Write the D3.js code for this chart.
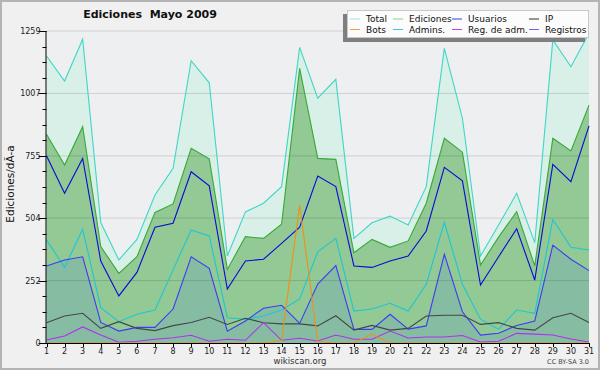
<!DOCTYPE html>
<html>
<head>
<meta charset="utf-8">
<script src="https://cdn.jsdelivr.net/npm/d3@7"></script>
<style>
  html, body { margin: 0; padding: 0; background: #f0f0f0; }
  svg { display: block; font-family: "DejaVu Sans", sans-serif; }
</style>
</head>
<body>
<div id="grafico"></div>
<script>
var width = 600;
var height = 370;

// Días del mes
var dias = d3.range(1, 32);

// Series (ediciones por día)
var total = [1158, 1057, 1226, 486, 335, 418, 597, 705, 1139, 1050, 351, 529, 564, 631, 1193, 988,
	1064, 422, 485, 512, 476, 631, 1189, 907, 351, 476, 604, 405, 1223, 1115, 1250];
var ediciones = [842, 718, 873, 389, 281, 348, 527, 561, 786, 743, 297, 429, 422, 479, 1108, 745,
	741, 364, 418, 386, 412, 564, 826, 770, 315, 427, 530, 311, 826, 775, 960];
var usuarios = [756, 604, 745, 331, 190, 285, 467, 483, 691, 634, 218, 331, 338, 402, 467, 674,
	631, 311, 305, 331, 351, 452, 709, 654, 234, 348, 461, 254, 721, 651, 876];
var ip = [82, 109, 120, 59, 86, 59, 50, 70, 83, 104, 75, 100, 82, 77, 77, 69,
	110, 52, 71, 52, 59, 109, 112, 112, 75, 82, 59, 52, 102, 120, 83];
var bots = [0, 0, 0, 0, 0, 0, 0, 0, 0, 0, 0, 0, 0, 10, 557, 5,
	0, 0, 35, 0, 0, 0, 0, 0, 0, 0, 0, 0, 0, 0, 0];
var admins = [416, 305, 459, 143, 86, 116, 133, 295, 456, 432, 102, 96, 109, 133, 178, 368,
	422, 129, 137, 160, 129, 237, 487, 237, 96, 55, 133, 120, 499, 386, 375];
var regAdm = [12, 28, 65, 32, 3, 7, 15, 21, 31, 7, 15, 11, 82, 11, 19, 8,
	32, 15, 15, 48, 20, 24, 24, 30, 4, 7, 39, 36, 32, 16, 4];
var registros = [311, 335, 348, 83, 48, 63, 63, 137, 348, 301, 48, 89, 140, 152, 79, 238,
	312, 55, 55, 116, 56, 69, 358, 126, 32, 39, 71, 89, 395, 338, 292];

var yMax = 1259;
var yTicks = [0, 252, 504, 755, 1007, 1259];

// Leyenda: dos filas de cuatro
var leyenda = [
	{ nombre: "Total", color: "#a8e6da" },
	{ nombre: "Ediciones", color: "#8fd08f" },
	{ nombre: "Usuarios", color: "#3a3ae0" },
	{ nombre: "IP", color: "#303030" },
	{ nombre: "Bots", color: "#f0a040" },
	{ nombre: "Admins.", color: "#40c8d8" },
	{ nombre: "Reg. de adm.", color: "#c040e0" },
	{ nombre: "Registros", color: "#6a6af0" }
];

var svg = d3.select("#grafico").append("svg")
	.attr("width", width)
	.attr("height", height);

// marco exterior
svg.append("rect")
	.attr("x", 1).attr("y", 1)
	.attr("width", width - 2).attr("height", height - 2)
	.attr("fill", "#f0f0f0")
	.attr("stroke", "#b4b4b4")
	.attr("stroke-width", 2);

var x = d3.scaleLinear().domain([1, 31]).range([46.5, 589]);
var y = d3.scaleLinear().domain([0, yMax]).range([343, 31]);

// fondo del área de datos
svg.append("rect")
	.attr("x", x(1)).attr("y", y(yMax))
	.attr("width", x(31) - x(1)).attr("height", y(0) - y(yMax))
	.attr("fill", "#eeeff0");

function area(serie) {
	return d3.area()
		.x((d, i) => x(dias[i]))
		.y0(y(0))
		.y1(d => y(d))(serie);
}
function linea(serie) {
	return d3.line()
		.x((d, i) => x(dias[i]))
		.y(d => y(d))(serie);
}

// Áreas rellenas
svg.append("path").attr("d", area(total)).attr("fill", "#d9f0e8");
svg.append("path").attr("d", area(ediciones)).attr("fill", "#92c994");
svg.append("path").attr("d", area(registros)).attr("fill", "#86bda2");

// líneas de la cuadrícula
svg.append("g")
	.selectAll("line")
	.data(yTicks.slice(1))
	.enter().append("line")
	.attr("x1", x(1)).attr("x2", x(31))
	.attr("y1", d => y(d)).attr("y2", d => y(d))
	.attr("stroke", "#000")
	.attr("stroke-opacity", 0.13)
	.attr("stroke-width", 1);

// Líneas de cada serie
var series = [
	{ datos: total, color: "#3fd6c6" },
	{ datos: ediciones, color: "#38a838" },
	{ datos: admins, color: "#1ec6d6" },
	{ datos: registros, color: "#3c3cf4" },
	{ datos: usuarios, color: "#0a0ad8" },
	{ datos: ip, color: "#404848" },
	{ datos: regAdm, color: "#b030ee" },
	{ datos: bots, color: "#f09018" }
];
svg.append("g")
	.selectAll("path")
	.data(series)
	.enter().append("path")
	.attr("d", d => linea(d.datos))
	.attr("fill", "none")
	.attr("stroke", d => d.color)
	.attr("stroke-width", 1.1);

// Ejes
var ejeY = svg.append("g");
ejeY.append("line")
	.attr("x1", x(1) - 0.5).attr("x2", x(1) - 0.5)
	.attr("y1", y(yMax)).attr("y2", y(0))
	.attr("stroke", "#000");
ejeY.selectAll(".menor")
	.data(d3.range(0, 21).map(i => i * yMax / 20))
	.enter().append("line")
	.attr("x1", x(1) - 4).attr("x2", x(1))
	.attr("y1", d => Math.round(y(d)) + 0.5).attr("y2", d => Math.round(y(d)) + 0.5)
	.attr("stroke", "#000");
ejeY.selectAll(".mayor")
	.data(yTicks)
	.enter().append("line")
	.attr("x1", x(1) - 8).attr("x2", x(1))
	.attr("y1", d => Math.round(y(d)) + 0.5).attr("y2", d => Math.round(y(d)) + 0.5)
	.attr("stroke", "#000");
ejeY.selectAll("text")
	.data(yTicks)
	.enter().append("text")
	.attr("x", x(1) - 6)
	.attr("y", d => y(d) + 3)
	.attr("text-anchor", "end")
	.attr("font-size", 8)
	.attr("fill", "#222")
	.text(d => d);

var ejeX = svg.append("g");
ejeX.append("line")
	.attr("x1", x(1) - 1).attr("x2", x(31) + 1)
	.attr("y1", 343.5).attr("y2", 343.5)
	.attr("stroke", "#000");
ejeX.selectAll(".tick")
	.data(dias)
	.enter().append("line")
	.attr("x1", d => Math.round(x(d)) + 0.5).attr("x2", d => Math.round(x(d)) + 0.5)
	.attr("y1", 343).attr("y2", 347)
	.attr("stroke", "#000");
ejeX.selectAll("text")
	.data(dias)
	.enter().append("text")
	.attr("x", d => x(d))
	.attr("y", 353.5)
	.attr("text-anchor", "middle")
	.attr("font-size", 8)
	.attr("fill", "#222")
	.text(d => d);

// Título
svg.append("text")
	.attr("x", 150).attr("y", 18)
	.attr("text-anchor", "middle")
	.attr("font-size", 11)
	.attr("font-weight", "bold")
	.attr("fill", "#111")
	.style("white-space", "pre")
	.text("Ediciones  Mayo 2009");

// Etiqueta del eje Y
svg.append("text")
	.attr("transform", "translate(14,184) rotate(-90)")
	.attr("text-anchor", "middle")
	.attr("font-size", 10.5)
	.attr("fill", "#111")
	.text("Ediciones/dÃ-a");

// Pie
svg.append("text")
	.attr("x", 300).attr("y", 364)
	.attr("text-anchor", "middle")
	.attr("font-size", 8.5)
	.attr("fill", "#333")
	.text("wikiscan.org");
svg.append("text")
	.attr("x", 589).attr("y", 364)
	.attr("text-anchor", "end")
	.attr("font-size", 6.5)
	.attr("fill", "#444")
	.text("CC BY-SA 3.0");

// Leyenda
var ley = svg.append("g");
ley.append("rect")
	.attr("x", 343).attr("y", 14)
	.attr("width", 242).attr("height", 28)
	.attr("fill", "#7f7f7f");
ley.append("rect")
	.attr("x", 347.5).attr("y", 10.5)
	.attr("width", 241).attr("height", 27)
	.attr("fill", "#fcfcfc")
	.attr("stroke", "#c8c8c8");

var colX = [350, 393, 452, 529];
var filaY = [18.5, 29];
var item = ley.selectAll(".item")
	.data(leyenda)
	.enter().append("g")
	.attr("transform", (d, i) => `translate(${colX[i % 4]},${filaY[Math.floor(i / 4)]})`);
item.append("line")
	.attr("x1", 0).attr("x2", 10)
	.attr("y1", 0.5).attr("y2", 0.5)
	.attr("stroke", d => d.color);
item.append("text")
	.attr("x", 16).attr("y", 3.5)
	.attr("font-size", 9)
	.attr("fill", "#111")
	.text(d => d.nombre);
</script>
</body>
</html>
